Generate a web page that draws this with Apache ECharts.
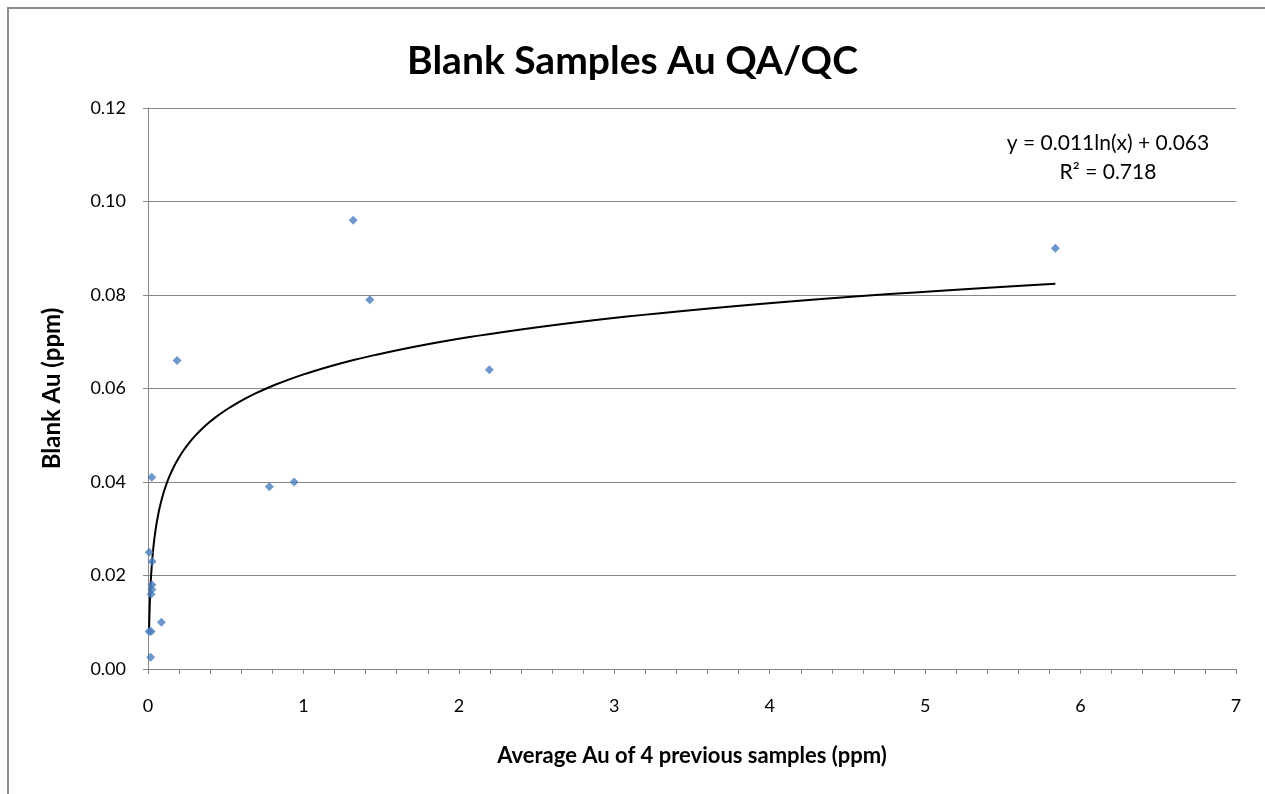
<!DOCTYPE html>
<html>
<head>
<meta charset="utf-8">
<script src="https://cdn.jsdelivr.net/npm/echarts@6/dist/echarts.min.js"></script>
<style>
  html, body { margin: 0; padding: 0; background: #fff; }
  #main { width: 1265px; height: 794px; }
  #frame { position: absolute; left: 7px; top: 7px; width: 1300px; height: 840px; border: 2px solid #8c8c8c; box-sizing: border-box; pointer-events: none; }
</style>
</head>
<body>
<div id="main"></div>
<div id="frame"></div>
<script>
// blank sample results vs. average of the 4 previous samples
const avgPrev = [0.024, 0.008, 0.026, 0.025, 0.025, 0.020, 0.007, 0.020, 0.086, 0.017,
                 0.187, 0.781, 0.940, 1.320, 1.427, 2.196, 5.838];
const blankAu = [0.041, 0.025, 0.023, 0.018, 0.017, 0.016, 0.008, 0.008, 0.010, 0.0025,
                 0.066, 0.039, 0.040, 0.096, 0.079, 0.064, 0.090];

// Excel log trendline shown on the chart
const trendA = 0.011;
const trendB = 0.063;
const trendXMin = 0.007;
const trendXMax = 5.838;
const trendLabel = ['y = 0.011ln(x) + 0.063', 'R² = 0.718'];

const yTicks = ['0.00', '0.02', '0.04', '0.06', '0.08', '0.10', '0.12'];

const points = avgPrev.map((x, i) => [x, blankAu[i]]);

// trendline points along a log spaced x
const trend = [];
const steps = 200;
for (let i = 0; i <= steps; i++) {
  const x = trendXMin * Math.pow(trendXMax / trendXMin, i / steps);
  trend.push([x, trendA * Math.log(x) + trendB]);
}

const font = 'Lato, "Open Sans", sans-serif';

const option = {
  animation: false,
  title: {
    text: 'Blank Samples Au QA/QC',
    left: 'center',
    top: 37,
    textStyle: { fontFamily: font, fontSize: 39, fontWeight: 'bold', color: '#000' }
  },
  grid: { left: 148, right: 29, top: 108, bottom: 125, containLabel: false },
  xAxis: {
    type: 'value',
    min: 0, max: 7, interval: 1,
    name: 'Average Au of 4 previous samples (ppm)',
    nameLocation: 'middle',
    nameGap: 76,
    nameTextStyle: { fontFamily: font, fontSize: 22, fontWeight: 'bold', color: '#000' },
    axisLine: { show: true, lineStyle: { color: '#868686', width: 1 } },
    axisTick: { show: true, length: 5, lineStyle: { color: '#868686' } },
    minorTick: { show: true, splitNumber: 5, length: 5, lineStyle: { color: '#868686' } },
    axisLabel: { fontFamily: font, fontSize: 18, color: '#000', margin: 28 },
    splitLine: { show: false }
  },
  yAxis: {
    type: 'value',
    min: 0, max: 0.12, interval: 0.02,
    name: 'Blank Au (ppm)',
    nameLocation: 'middle',
    nameGap: 84,
    nameTextStyle: { fontFamily: font, fontSize: 24, fontWeight: 'bold', color: '#000' },
    axisLine: { show: true, lineStyle: { color: '#868686', width: 1 } },
    axisTick: { show: true, length: 5, lineStyle: { color: '#868686' } },
    axisLabel: {
      fontFamily: font, fontSize: 18, color: '#000', margin: 22,
      formatter: v => yTicks[Math.round(v / 0.02)]
    },
    splitLine: { show: true, lineStyle: { color: '#868686', width: 1 } }
  },
  series: [
    {
      name: 'Blank Au',
      type: 'scatter',
      symbol: 'diamond',
      symbolSize: 9,
      itemStyle: { color: '#4a7ebb' },
      data: points,
      z: 3
    },
    {
      name: 'Log trend',
      type: 'line',
      showSymbol: false,
      smooth: false,
      lineStyle: { color: '#000', width: 2 },
      data: trend,
      z: 2
    }
  ],
  graphic: [
    {
      type: 'text', x: 1108, y: 143,
      style: { text: trendLabel[0], font: '21px ' + font, fill: '#000', textAlign: 'center', textVerticalAlign: 'middle' }
    },
    {
      type: 'text', x: 1108, y: 172,
      style: { text: trendLabel[1], font: '21px ' + font, fill: '#000', textAlign: 'center', textVerticalAlign: 'middle' }
    }
  ]
};

const myChart = echarts.init(document.getElementById('main'));
myChart.setOption(option);
</script>
</body>
</html>
